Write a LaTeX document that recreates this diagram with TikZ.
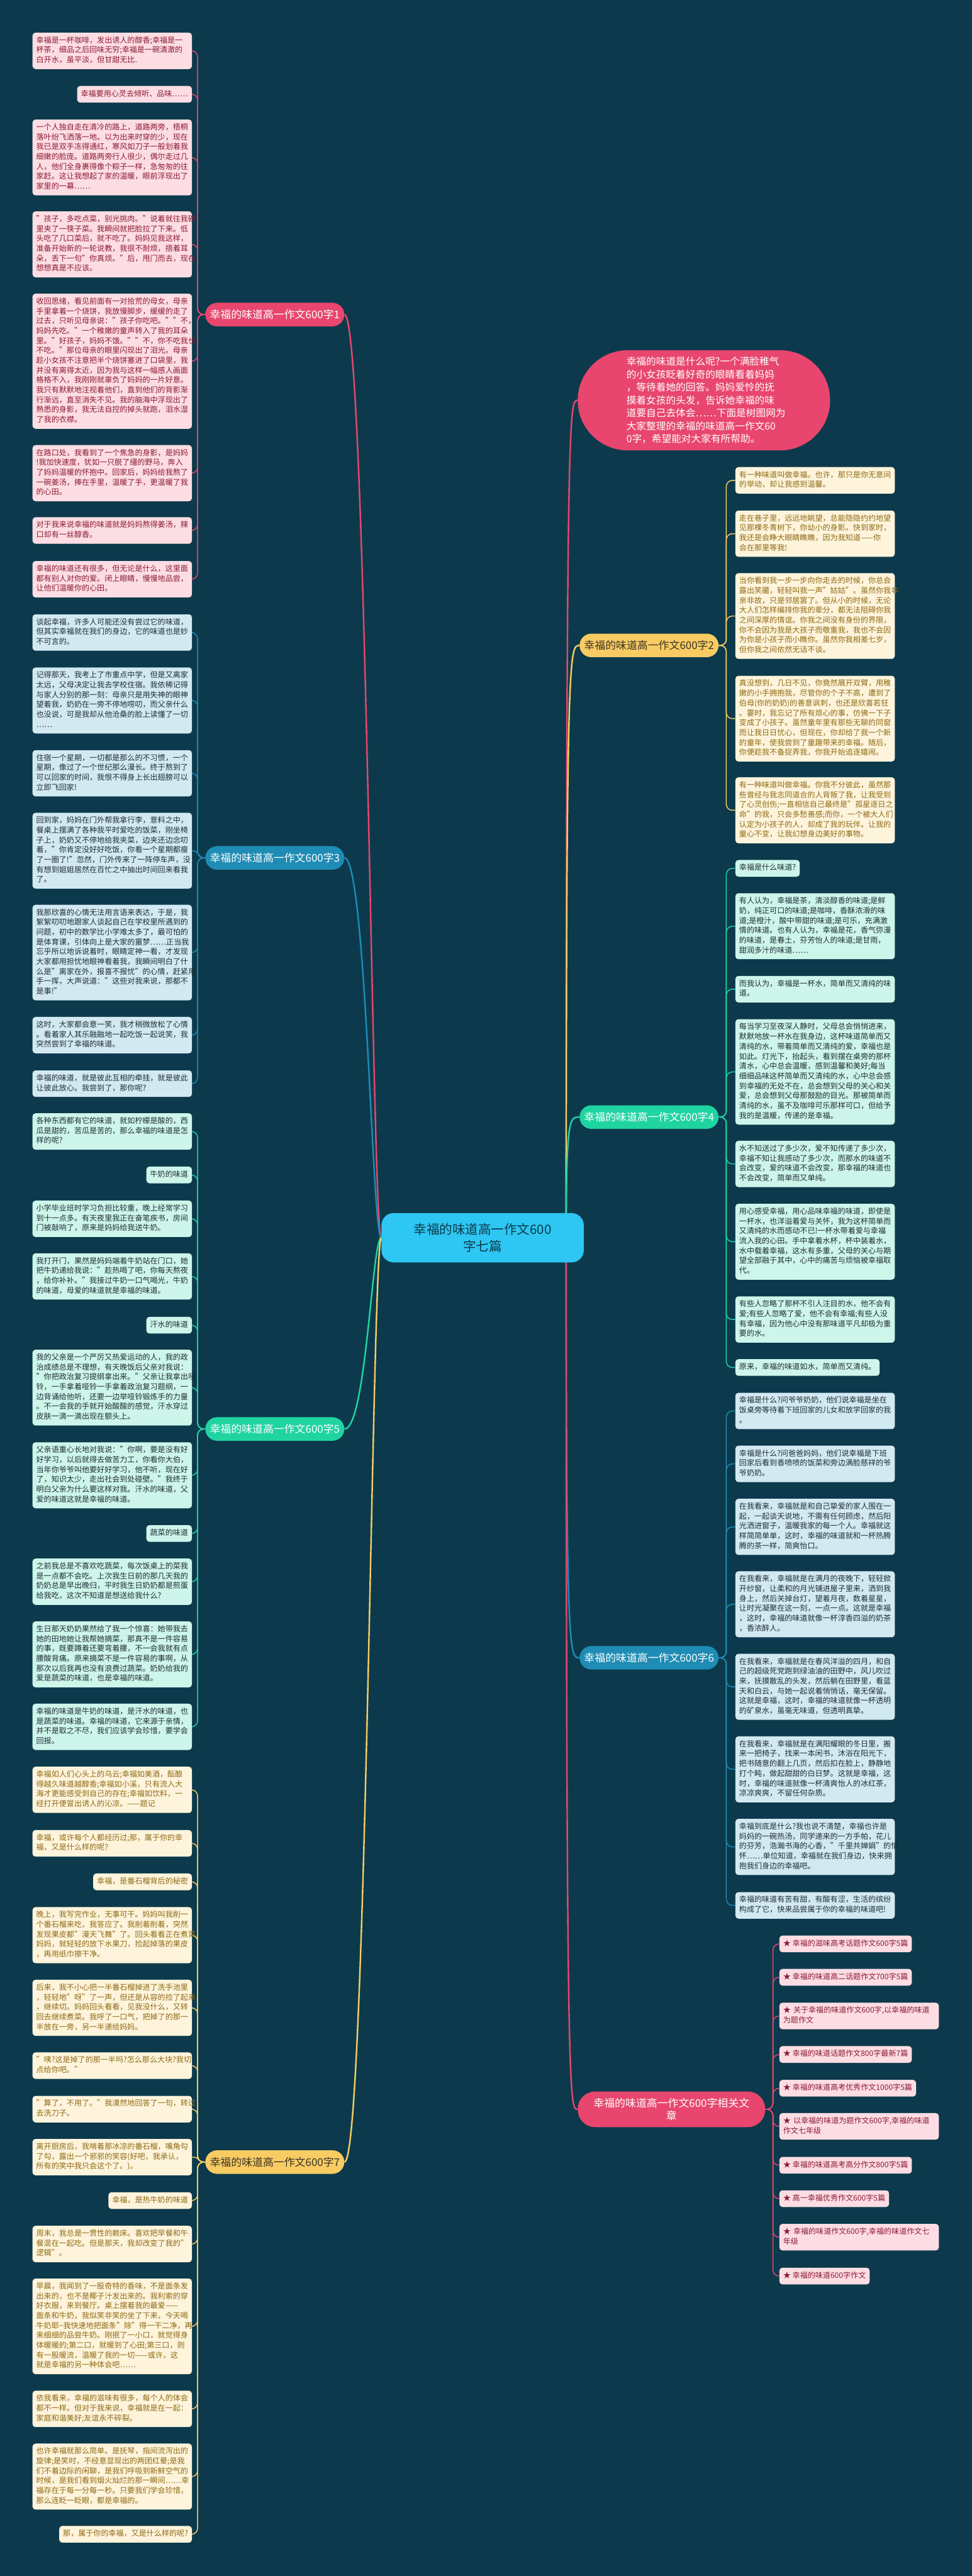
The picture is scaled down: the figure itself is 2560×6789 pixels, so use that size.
\documentclass[tikz,border=0pt]{standalone}
\usepackage{fontspec}
\setmainfont{Noto Sans CJK SC}
\usetikzlibrary{calc}
\pgfdeclarelayer{bg}
\pgfsetlayers{bg,main}
\definecolor{bgc}{HTML}{0C3A4C}
\definecolor{pinkD}{HTML}{E8466E}
\definecolor{yellowD}{HTML}{F8CB63}
\definecolor{blueD}{HTML}{1E8CB5}
\definecolor{greenD}{HTML}{20D4A2}
\definecolor{rootC}{HTML}{2EC6F2}
\definecolor{pinkL}{HTML}{FCDDE3}
\definecolor{pinkT}{HTML}{8C1B35}
\definecolor{creamL}{HTML}{FEF4DC}
\definecolor{creamT}{HTML}{8E6A14}
\definecolor{blueL}{HTML}{D2E9F2}
\definecolor{mintL}{HTML}{CDF5EA}
\definecolor{darkT}{HTML}{1F2D36}
\definecolor{topicDark}{HTML}{3A3526}
\newcommand{\lfont}{\fontsize{10}{13}\selectfont}
\newcommand{\connL}[3]{\draw[#3,rounded corners=8pt] (#1.west) -- ++(-20,0) |- (#2.east);}
\newcommand{\connR}[3]{\draw[#3,rounded corners=8pt] (#1.east) -- ++(20,0) |- (#2.west);}
\newcommand{\connLb}[3]{\draw[#3] (#1.west) .. controls +(-22,0) and +(22,0) .. (#2.east);}
\begin{document}
\begin{tikzpicture}[x=0.5pt,y=-0.5pt,
  leaf/.style={font=\lfont, inner xsep=5pt, inner ysep=4.5pt, rounded corners=4pt,
    execute at begin node=\strut, execute at end node=\strut},
  wide/.style={text width=200pt, align=left},
  pk/.style={leaf, fill=pinkL, text=pinkT},
  cr/.style={leaf, fill=creamL, text=creamT},
  bl/.style={leaf, fill=blueL, text=darkT},
  mt/.style={leaf, fill=mintL, text=darkT},
  topic/.style={font=\fontsize{14}{17}\selectfont, minimum height=31pt, minimum width=180pt,
    rounded corners=15.5pt, inner xsep=6pt},
  lkP/.style={draw=pinkD, line width=1.2pt},
  lkY/.style={draw=yellowD, line width=1.2pt},
  lkB/.style={draw=blueD, line width=1.2pt},
  lkG/.style={draw=greenD, line width=1.2pt},
  rl/.style={line width=2pt}
]
\useasboundingbox (0,0) rectangle (2560,6789);
\begin{pgfonlayer}{bg}
\fill[bgc] (0,0) rectangle (2560,6789);
\end{pgfonlayer}

% ---------- root and intro ----------
\node[fill=rootC, text=bgc, font=\fontsize{17}{22}\selectfont, minimum width=266.5pt, minimum height=65pt,
  rounded corners=16pt, align=center] (root) at (1271.5,3262) {幸福的味道高一作文600\\字七篇};
\node[fill=pinkD, text=white, font=\fontsize{13}{17}\selectfont, text width=204pt, align=left,
  minimum width=332.5pt, minimum height=132pt, rounded corners=66pt] (intro) at (1854.5,1055)
  {幸福的味道是什么呢?一个满脸稚气\\的小女孩眨着好奇的眼睛看着妈妈\\，等待着她的回答。妈妈爱怜的抚\\摸着女孩的头发，告诉她幸福的味\\道要自己去体会……下面是树图网为\\大家整理的幸福的味道高一作文60\\0字，希望能对大家有所帮助。};

% ---------- topics ----------
\node[topic, fill=pinkD, text=white] (T1) at (724,829) {幸福的味道高一作文600字1};
\node[topic, fill=blueD, text=white] (T3) at (724,2261) {幸福的味道高一作文600字3};
\node[topic, fill=greenD, text=white] (T5) at (724,3766) {幸福的味道高一作文600字5};
\node[topic, fill=yellowD, text=topicDark] (T7) at (724,5698) {幸福的味道高一作文600字7};
\node[topic, fill=yellowD, text=topicDark] (T2) at (1710,1701) {幸福的味道高一作文600字2};
\node[topic, fill=greenD, text=white] (T4) at (1710,2944) {幸福的味道高一作文600字4};
\node[topic, fill=blueD, text=white] (T6) at (1710,4369) {幸福的味道高一作文600字6};
\node[fill=pinkD, text=white, font=\fontsize{14}{17}\selectfont, text width=206pt, align=center,
  minimum width=247pt, minimum height=47pt, rounded corners=23pt] (T8) at (1769,5559)
  {幸福的味道高一作文600字相关文\\章};

% ---------- topic 1 leaves ----------
\node[pk, wide, anchor=east] (L1a) at (506,134) {幸福是一杯咖啡，发出诱人的醇香;幸福是一\\杯茶，细品之后回味无穷;幸福是一碗清澈的\\白开水，虽平淡，但甘甜无比.};
\node[pk, anchor=east] (L1b) at (506,248.5) {幸福要用心灵去倾听、品味……};
\node[pk, wide, anchor=east] (L1c) at (506,415) {一个人独自走在清冷的路上，道路两旁，梧桐\\落叶纷飞洒落一地。以为出来时穿的少，现在\\我已是双手冻得通红，寒风如刀子一般划着我\\细嫩的脸庞。道路两旁行人很少，偶尔走过几\\人，他们全身裹得像个粽子一样，急匆匆的往\\家赶。这让我想起了家的温暖，眼前浮现出了\\家里的一幕……};
\node[pk, wide, anchor=east] (L1d) at (506,644) {"孩子，多吃点菜，别光挑肉。"说着就往我碗\\里夹了一筷子菜。我瞬间就把脸拉了下来。低\\头吃了几口菜后，就不吃了。妈妈见我这样，\\准备开始新的一轮说教，我很不耐烦，捂着耳\\朵，丢下一句"你真烦。"后，甩门而去，现在\\想想真是不应该。};
\node[pk, wide, anchor=east] (L1e) at (506,952) {收回思绪，看见前面有一对拾荒的母女，母亲\\手里拿着一个烧饼，我放慢脚步，缓缓的走了\\过去，只听见母亲说："孩子你吃吧。""不，\\妈妈先吃。"一个稚嫩的童声转入了我的耳朵\\里。"好孩子，妈妈不饿。""不，你不吃我也\\不吃。"那位母亲的眼里闪现出了泪光。母亲\\趁小女孩不注意把半个烧饼塞进了口袋里，我\\并没有离得太近，因为我与这样一幅感人画面\\格格不入，我刚刚就辜负了妈妈的一片好意。\\我只有默默地注视着他们，直到他们的背影渐\\行渐远，直至消失不见。我的脑海中浮现出了\\熟悉的身影，我无法自控的掉头就跑，泪水湿\\了我的衣襟。};
\node[pk, wide, anchor=east] (L1f) at (506,1247) {在路口处，我看到了一个焦急的身影，是妈妈\\!我加快速度，犹如一只脱了缰的野马，奔入\\了妈妈温暖的怀抱中。回家后，妈妈给我熬了\\一碗姜汤，捧在手里，温暖了手，更温暖了我\\的心田。};
\node[pk, wide, anchor=east] (L1g) at (506,1398) {对于我来说幸福的味道就是妈妈熬得姜汤，辣\\口却有一丝醇香。};
\node[pk, wide, anchor=east] (L1h) at (506,1526.5) {幸福的味道还有很多，但无论是什么，这里面\\都有别人对你的爱。闭上眼睛，慢慢地品尝，\\让他们温暖你的心田。};

% ---------- topic 3 leaves ----------
\node[bl, wide, anchor=east] (L3a) at (506,1667) {谈起幸福，许多人可能还没有尝过它的味道，\\但其实幸福就在我们的身边，它的味道也是妙\\不可言的。};
\node[bl, wide, anchor=east] (L3b) at (506,1846) {记得那天，我考上了市重点中学，但是又离家\\太远，父母决定让我去学校住宿。我依稀记得\\与家人分别的那一刻：母亲只是用失神的眼神\\望着我，奶奶在一旁不停地唠叨，而父亲什么\\也没说，可是我却从他沧桑的脸上读懂了一切\\……};
\node[bl, wide, anchor=east] (L3c) at (506,2038) {住宿一个星期，一切都是那么的不习惯，一个\\星期，像过了一个世纪那么漫长。终于熬到了\\可以回家的时间，我恨不得身上长出翅膀可以\\立即飞回家!};
\node[bl, wide, anchor=east] (L3d) at (506,2242) {回到家，妈妈在门外帮我拿行李，意料之中，\\餐桌上摆满了各种我平时爱吃的饭菜，刚坐椅\\子上，奶奶又不停地给我夹菜，边夹还边念叨\\着，"你肯定没好好吃饭，你看一个星期都瘦\\了一圈了!"忽然，门外传来了一阵停车声，没\\有想到姐姐居然在百忙之中抽出时间回来看我\\了。};
\node[bl, wide, anchor=east] (L3e) at (506,2510.5) {我那欣喜的心情无法用言语来表达，于是，我\\絮絮叨叨地跟家人谈起自己在学校里所遇到的\\问题，初中的数学比小学难太多了，最可怕的\\是体育课，引体向上是大家的噩梦……正当我\\忘乎所以地诉说着时，眼睛定神一看，才发现\\大家都用担忧地眼神看着我，我瞬间明白了什\\么是"离家在外，报喜不报忧"的心情，赶紧用\\手一挥，大声说道："这些对我来说，那都不\\是事!"};
\node[bl, wide, anchor=east] (L3f) at (506,2728) {这时，大家都会意一笑，我才稍微放松了心情\\。看着家人其乐融融地一起吃饭一起说笑，我\\突然尝到了幸福的味道。};
\node[bl, wide, anchor=east] (L3g) at (506,2856) {幸福的味道，就是彼此互相的牵挂，就是彼此\\让彼此放心。我尝到了，那你呢?};

% ---------- topic 5 leaves ----------
\node[mt, wide, anchor=east] (L5a) at (506,2982) {各种东西都有它的味道，就如柠檬是酸的，西\\瓜是甜的，苦瓜是苦的，那么幸福的味道是怎\\样的呢?};
\node[mt, anchor=east] (L5b) at (506,3096.5) {牛奶的味道};
\node[mt, wide, anchor=east] (L5c) at (506,3212) {小学毕业班时学习负担比较重，晚上经常学习\\到十一点多。有天夜里我正在奋笔疾书，房间\\门被敲响了，原来是妈妈给我送牛奶。};
\node[mt, wide, anchor=east] (L5d) at (506,3364) {我打开门，果然是妈妈端着牛奶站在门口，她\\把牛奶递给我说："趁热喝了吧，你每天熬夜\\，给你补补。"我接过牛奶一口气喝光，牛奶\\的味道，母爱的味道就是幸福的味道。};
\node[mt, anchor=east] (L5e) at (506,3492.5) {汗水的味道};
\node[mt, wide, anchor=east] (L5f) at (506,3657) {我的父亲是一个严厉又热爱运动的人，我的政\\治成绩总是不理想，有天晚饭后父亲对我说：\\"你把政治复习提纲拿出来。"父亲让我拿出哑\\铃，一手拿着哑铃一手拿着政治复习题纲，一\\边背诵给他听，还要一边举哑铃锻炼手的力量\\。不一会我的手就开始酸酸的感觉，汗水穿过\\皮肤一滴一滴出现在额头上。};
\node[mt, wide, anchor=east] (L5g) at (506,3888) {父亲语重心长地对我说："你啊，要是没有好\\好学习，以后就得去做苦力工，你看你大伯，\\当年你爷爷叫他要好好学习，他不听，现在好\\了，知识太少，走出社会到处碰壁。"我终于\\明白父亲为什么要这样对我。汗水的味道，父\\爱的味道这就是幸福的味道。};
\node[mt, anchor=east] (L5h) at (506,4041.5) {蔬菜的味道};
\node[mt, wide, anchor=east] (L5i) at (506,4168.5) {之前我总是不喜欢吃蔬菜，每次饭桌上的菜我\\是一点都不会吃。上次我生日前的那几天我的\\奶奶总是早出晚归，平时我生日奶奶都是煎蛋\\给我吃，这次不知道是想送给我什么?};
\node[mt, wide, anchor=east] (L5j) at (506,4360) {生日那天奶奶果然给了我一个惊喜：她带我去\\她的田地她让我帮她摘菜，那真不是一件容易\\的事，既要蹲着还要弯着腰，不一会我就有点\\腰酸背痛。原来摘菜不是一件容易的事啊，从\\那次以后我再也没有浪费过蔬菜。奶奶给我的\\爱是蔬菜的味道，也是幸福的味道。};
\node[mt, wide, anchor=east] (L5k) at (506,4551) {幸福的味道是牛奶的味道，是汗水的味道，也\\是蔬菜的味道。幸福的味道，它来源于亲情，\\并不是取之不尽，我们应该学会珍惜，要学会\\回报。};

% ---------- topic 7 leaves ----------
\node[cr, wide, anchor=east] (L7a) at (506,4717) {幸福如人们心头上的乌云;幸福如美酒，酝酿\\得越久味道越醇香;幸福如小溪，只有流入大\\海才更能感受到自己的存在;幸福如饮料，一\\经打开便冒出诱人的沁凉。——题记};
\node[cr, wide, anchor=east] (L7b) at (506,4858) {幸福，或许每个人都经历过;那，属于你的幸\\福，又是什么样的呢?};
\node[cr, anchor=east] (L7c) at (506,4959.5) {幸福，是番石榴背后的秘密};
\node[cr, wide, anchor=east] (L7d) at (506,5100) {晚上，我写完作业，无事可干。妈妈叫我削一\\个番石榴来吃，我答应了。我削着削着，突然\\发现果皮都"漫天飞舞"了。回头看看正在煮菜\\妈妈，就轻轻的放下水果刀，捡起掉落的果皮\\，再用纸巾擦干净。};
\node[cr, wide, anchor=east] (L7e) at (506,5291.5) {后来，我不小心把一半番石榴掉进了洗手池里\\，轻轻地"呀"了一声，但还是从容的捡了起来\\，继续切。妈妈回头看看，见我没什么，又转\\回去继续煮菜。我呼了一口气，把掉了的那一\\半放在一旁，另一半递给妈妈。};
\node[cr, wide, anchor=east] (L7f) at (506,5444) {"咦?这是掉了的那一半吗?怎么那么大块?我切\\点给你吧。"};
\node[cr, wide, anchor=east] (L7g) at (506,5558.5) {"算了，不用了。"我漠然地回答了一句，转过\\去洗刀子。};
\node[cr, wide, anchor=east] (L7h) at (506,5685) {离开厨房后，我啃着那冰凉的番石榴，嘴角勾\\了勾，露出一个邪邪的笑容(好吧，我承认，\\所有的笑中我只会这个了。)。};
\node[cr, anchor=east] (L7i) at (506,5799.5) {幸福，是热牛奶的味道};
\node[cr, wide, anchor=east] (L7j) at (506,5914) {周末，我总是一贯性的赖床。喜欢把早餐和午\\餐混在一起吃。但是那天，我却改变了我的"\\逻辑"。};
\node[cr, wide, anchor=east] (L7k) at (506,6131) {早晨，我闻到了一股奇特的香味，不是面条发\\出来的，也不是椰子汁发出来的。我利索的穿\\好衣服，来到餐厅。桌上摆着我的最爱——\\面条和牛奶，我似笑非笑的坐了下来，今天喝\\牛奶耶\textasciitilde 我快速地把面条"除"得一干二净，再\\来细细的品尝牛奶。刚抿了一小口，就觉得身\\体暖暖的;第二口，就暖到了心田;第三口，则\\有一股暖流，温暖了我的一切——或许，这\\就是幸福的另一种体会吧……};
\node[cr, wide, anchor=east] (L7l) at (506,6348.5) {依我看来，幸福的滋味有很多，每个人的体会\\都不一样。但对于我来说，幸福就是在一起：\\家庭和谐美好;友谊永不碎裂。};
\node[cr, wide, anchor=east] (L7m) at (506,6527) {也许幸福就那么简单。是抚琴，指间流泻出的\\旋律;是笑时，不经意显现出的两团红晕;是我\\们不着边际的闲聊，是我们呼吸到新鲜空气的\\时候，是我们看到烟火灿烂的那一瞬间……幸\\福存在于每一分每一秒。只要我们学会珍惜，\\那么连眨一眨眼，都是幸福的。};
\node[cr, anchor=east] (L7n) at (506,6679) {那，属于你的幸福，又是什么样的呢?};

% ---------- topic 2 leaves ----------
\node[cr, wide, anchor=west] (R2a) at (1937,1266) {有一种味道叫做幸福。也许，那只是你无意间\\的举动，却让我感到温馨。};
\node[cr, wide, anchor=west] (R2b) at (1937,1406.5) {走在巷子里，远远地眺望，总能隐隐约约地望\\见那棵冬青树下，你幼小的身影。快到家时，\\我还是会睁大眼睛瞧瞧，因为我知道——你\\会在那里等我!};
\node[cr, wide, anchor=west] (R2c) at (1937,1623.5) {当你看到我一步一步向你走去的时候，你总会\\露出笑靥，轻轻叫我一声"姑姑"。虽然你我非\\亲非故，只是邻居罢了。但从小的时候，无论\\大人们怎样编排你我的辈分，都无法阻碍你我\\之间深厚的情谊。你我之间没有身份的界限，\\你不会因为我是大孩子而敬重我，我也不会因\\为你是小孩子而小瞧你。虽然你我相差七岁，\\但你我之间依然无话不谈。};
\node[cr, wide, anchor=west] (R2d) at (1937,1894) {真没想到，几日不见，你竟然展开双臂，用稚\\嫩的小手拥抱我，尽管你的个子不高，遭到了\\伯母(你的奶奶)的善意讽刺，也还是欣喜若狂\\。霎时，我忘记了所有烦心的事，仿佛一下子\\变成了小孩子。虽然童年里有那些无聊的同窗\\而让我日日忧心，但现在，你却给了我一个新\\的童年，使我尝到了童趣带来的幸福。随后，\\你便趁我不备捉弄我，你我开始追逐嬉闹。};
\node[cr, wide, anchor=west] (R2e) at (1937,2135.5) {有一种味道叫做幸福。你我不分彼此，虽然那\\些曾经与我志同道合的人背叛了我，让我受到\\了心灵创伤;一直相信自己最终是"孤星逐日之\\命"的我，只会多愁善感;而你，一个被大人们\\认定为小孩子的人，却成了我的玩伴。让我的\\童心不变，让我幻想身边美好的事物。};

% ---------- topic 4 leaves ----------
\node[mt, anchor=west] (R4a) at (1937,2288.5) {幸福是什么味道?};
\node[mt, wide, anchor=west] (R4b) at (1937,2441) {有人认为，幸福是茶，清淡醇香的味道;是鲜\\奶，纯正可口的味道;是咖啡，香酥浓滑的味\\道;是橙汁，酸中带甜的味道;是可乐，充满激\\情的味道。也有人认为，幸福是花，香气弥漫\\的味道，是春土，芬芳怡人的味道;是甘雨，\\甜润多汁的味道……};
\node[mt, wide, anchor=west] (R4c) at (1937,2607) {而我认为，幸福是一杯水，简单而又清纯的味\\道。};
\node[mt, wide, anchor=west] (R4d) at (1937,2825) {每当学习至夜深人静时，父母总会悄悄进来，\\默默地放一杯水在我身边，这杯味道简单而又\\清纯的水，带着简单而又清纯的爱，幸福也是\\如此。灯光下，抬起头，看到摆在桌旁的那杯\\清水，心中总会温暖，感到温馨和美好;每当\\细细品味这杯简单而又清纯的水，心中总会感\\到幸福的无处不在，总会想到父母的关心和关\\爱，总会想到父母那鼓励的目光。那被简单而\\清纯的水，虽不及咖啡可乐那样可口，但给予\\我的是温暖，传递的是幸福。};
\node[mt, wide, anchor=west] (R4e) at (1937,3067.5) {水不知送过了多少次，爱不知传递了多少次，\\幸福不知让我感动了多少次，而那水的味道不\\会改变，爱的味道不会改变，那幸福的味道也\\不会改变，简单而又单纯。};
\node[mt, wide, anchor=west] (R4f) at (1937,3272.5) {用心感受幸福，用心品味幸福的味道，即使是\\一杯水，也洋溢着爱与关怀，我为这杯简单而\\又清纯的水而感动不已!一杯水带着爱与幸福\\流入我的心田。手中拿着水杯，杯中装着水，\\水中载着幸福，这水有多重，父母的关心与期\\望全部融于其中，心中的痛苦与烦恼被幸福取\\代。};
\node[mt, wide, anchor=west] (R4g) at (1937,3477.5) {有些人忽略了那杯不引人注目的水，他不会有\\爱;有些人忽略了爱，他不会有幸福;有些人没\\有幸福，因为他心中没有那味道平凡却极为重\\要的水。};
\node[mt, anchor=west] (R4h) at (1937,3604) {原来，幸福的味道如水，简单而又清纯。};

% ---------- topic 6 leaves ----------
\node[bl, wide, anchor=west] (R6a) at (1937,3718.5) {幸福是什么?问爷爷奶奶，他们说幸福是坐在\\饭桌旁等待着下班回家的儿女和放学回家的我\\。};
\node[bl, wide, anchor=west] (R6b) at (1937,3858) {幸福是什么?问爸爸妈妈，他们说幸福是下班\\回家后看到香喷喷的饭菜和旁边满脸慈祥的爷\\爷奶奶。};
\node[bl, wide, anchor=west] (R6c) at (1937,4024) {在我看来，幸福就是和自己挚爱的家人围在一\\起，一起谈天说地，不需有任何顾虑，然后阳\\光洒进窗子，温暖我家的每一个人。幸福就这\\样简简单单，这时，幸福的味道就和一杯热腾\\腾的茶一样，简爽怡口。};
\node[bl, wide, anchor=west] (R6d) at (1937,4228) {在我看来，幸福就是在满月的夜晚下，轻轻掀\\开纱窗，让柔和的月光铺进屋子里来，洒到我\\身上，然后关掉台灯，望着月夜，数着星星，\\让时光凝聚在这一刻，一点一点。这就是幸福\\，这时，幸福的味道就像一杯淳香四溢的奶茶\\，香浓醉人。};
\node[bl, wide, anchor=west] (R6e) at (1937,4445.5) {在我看来，幸福就是在春风洋溢的四月，和自\\己的超级死党跑到绿油油的田野中，风儿吹过\\来，抚摸散乱的头发，然后躺在田野里，看蓝\\天和白云，与她一起说着悄悄话，毫无保留。\\这就是幸福，这时，幸福的味道就像一杯透明\\的矿泉水，虽毫无味道，但透明真挚。};
\node[bl, wide, anchor=west] (R6f) at (1937,4663) {在我看来，幸福就是在满阳耀眼的冬日里，搬\\来一把椅子，找来一本闲书，沐浴在阳光下，\\把书随意的翻上几页，然后扣在脸上，静静地\\打个盹，做起甜甜的白日梦。这就是幸福，这\\时，幸福的味道就像一杯清爽怡人的冰红茶，\\凉凉爽爽，不留任何杂质。};
\node[bl, wide, anchor=west] (R6g) at (1937,4867.5) {幸福到底是什么?我也说不清楚，幸福也许是\\妈妈的一碗热汤，同学递来的一方手帕，花儿\\的芬芳，浩瀚书海的心香，"千里共婵娟"的情\\怀……单位知道，幸福就在我们身边，快来拥\\抱我们身边的幸福吧。};
\node[bl, wide, anchor=west] (R6h) at (1937,5021.5) {幸福的味道有苦有甜，有酸有涩，生活的缤纷\\构成了它，快来品尝属于你的幸福的味道吧!};

% ---------- related links ----------
\node[pk, anchor=west] (K1) at (2053,5123) {★ 幸福的滋味高考话题作文600字5篇};
\node[pk, anchor=west] (K2) at (2053,5211) {★ 幸福的味道高二话题作文700字5篇};
\node[pk, wide, anchor=west] (K3) at (2053,5313) {★ 关于幸福的味道作文600字,以幸福的味道\\为题作文};
\node[pk, anchor=west] (K4) at (2053,5414.5) {★ 幸福的味道话题作文800字最新7篇};
\node[pk, anchor=west] (K5) at (2053,5503.5) {★ 幸福的味道高考优秀作文1000字5篇};
\node[pk, wide, anchor=west] (K6) at (2053,5604) {★ 以幸福的味道为题作文600字,幸福的味道\\作文七年级};
\node[pk, anchor=west] (K7) at (2053,5706.5) {★ 幸福的味道高考高分作文800字5篇};
\node[pk, anchor=west] (K8) at (2053,5794.5) {★ 高一幸福优秀作文600字5篇};
\node[pk, wide, anchor=west] (K9) at (2053,5896) {★ 幸福的味道作文600字,幸福的味道作文七\\年级};
\node[pk, anchor=west] (K10) at (2053,5998.5) {★ 幸福的味道600字作文};

% ---------- connectors ----------
\begin{pgfonlayer}{bg}
\draw[rl, pinkD] (root.west) .. controls (980,3262) and (965,829) .. (T1.east);
\draw[rl, blueD] (root.west) .. controls (980,3262) and (965,2261) .. (T3.east);
\draw[rl, greenD] (root.west) .. controls (980,3262) and (965,3766) .. (T5.east);
\draw[rl, yellowD] (root.west) .. controls (980,3262) and (965,5698) .. (T7.east);
\draw[rl, pinkD] ($(root.center)+(220,0)$) .. controls (1492,1055) and (1500,1055) .. (intro.west);
\draw[rl, yellowD] ($(root.center)+(220,0)$) .. controls (1492,1701) and (1500,1701) .. (T2.west);
\draw[rl, greenD] ($(root.center)+(220,0)$) .. controls (1492,2944) and (1500,2944) .. (T4.west);
\draw[rl, blueD] ($(root.center)+(220,0)$) .. controls (1492,4369) and (1500,4369) .. (T6.west);
\draw[rl, pinkD] ($(root.center)+(220,0)$) .. controls (1492,5559) and (1500,5559) .. (T8.west);
\foreach \n in {L1a,L1b,L1c,L1d,L1e,L1f,L1g,L1h} {\connL{T1}{\n}{lkP}}
\foreach \n in {L3a,L3b,L3c,L3e,L3f,L3g} {\connL{T3}{\n}{lkB}}
\connLb{T3}{L3d}{lkB}
\foreach \n in {L5a,L5b,L5c,L5d,L5e,L5f,L5g,L5h,L5i,L5j,L5k} {\connL{T5}{\n}{lkG}}
\foreach \n in {L7a,L7b,L7c,L7d,L7e,L7f,L7g,L7i,L7j,L7k,L7l,L7m,L7n} {\connL{T7}{\n}{lkY}}
\connLb{T7}{L7h}{lkY}
\foreach \n in {R2a,R2b,R2c,R2d,R2e} {\connR{T2}{\n}{lkY}}
\foreach \n in {R4a,R4b,R4c,R4d,R4e,R4f,R4g,R4h} {\connR{T4}{\n}{lkG}}
\foreach \n in {R6a,R6b,R6c,R6d,R6e,R6f,R6g,R6h} {\connR{T6}{\n}{lkB}}
\foreach \n in {K1,K2,K3,K4,K5,K6,K7,K8,K9,K10} {\connR{T8}{\n}{lkP}}
\end{pgfonlayer}
\end{tikzpicture}
\end{document}
